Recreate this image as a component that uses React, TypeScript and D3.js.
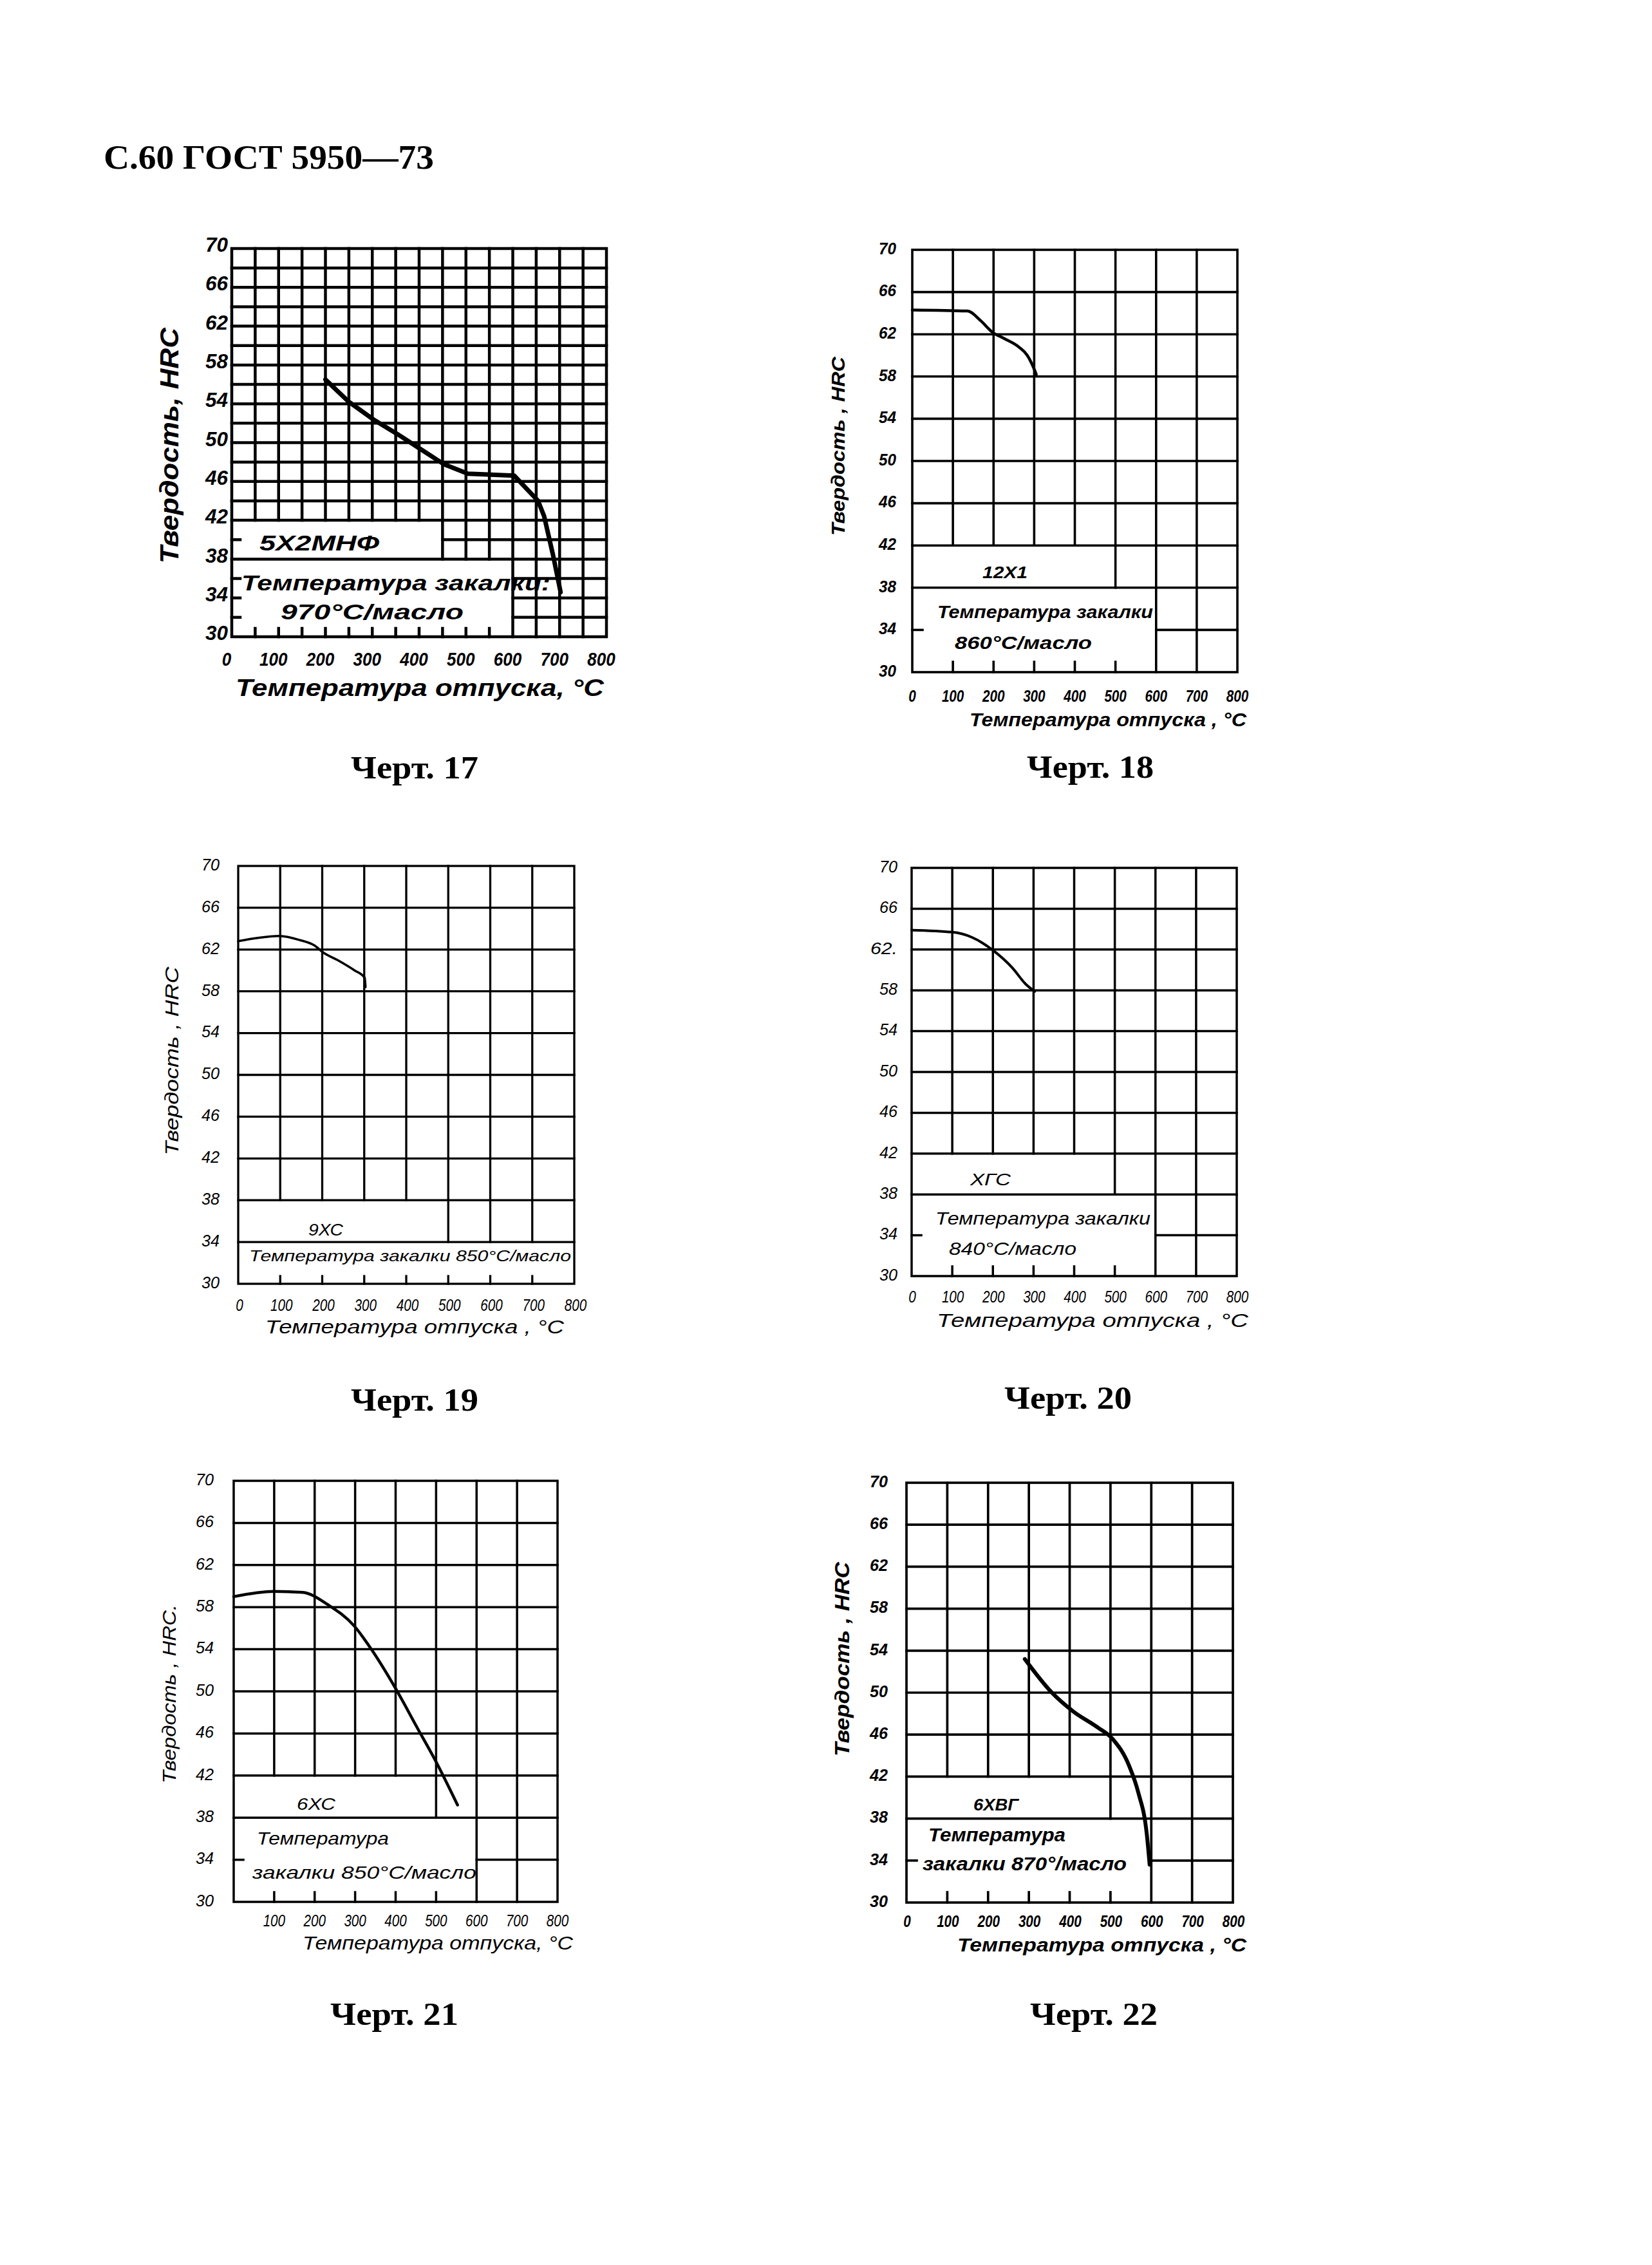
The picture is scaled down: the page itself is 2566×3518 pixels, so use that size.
import React from 'react';
import * as d3 from 'd3';

// ---------- data ----------
const headerText = 'С.60 ГОСТ 5950—73';
const yTickValues = [30, 34, 38, 42, 46, 50, 54, 58, 62, 66, 70];
const yTickLabels = ['30', '34', '38', '42', '46', '50', '54', '58', '62', '66', '70'];
const yTickLabels20 = ['30', '34', '38', '42', '46', '50', '54', '58', '62.', '66', '70'];
const xTickValues = [0, 100, 200, 300, 400, 500, 600, 700, 800];
const xTickLabels = ['0', '100', '200', '300', '400', '500', '600', '700', '800'];
const xTickLabels21 = ['', '100', '200', '300', '400', '500', '600', '700', '800'];

const yAxisTitle = 'Твердость, HRC';
const yAxisTitleSpaced = 'Твердость , HRC';
const xAxisTitle17 = 'Температура отпуска, °С';
const xAxisTitle = 'Температура отпуска , °С';
const xAxisTitle21 = 'Температура отпуска, °С';

// Черт. 17 — 5Х2МНФ
const temp17 = [200, 250, 305, 353, 404, 452, 504, 603, 654, 667, 686, 702];
const hrc17 = [56.5, 54.2, 52.3, 50.9, 49.3, 47.8, 46.8, 46.6, 44.0, 42.4, 38.4, 34.6];
// Черт. 18 — 12Х1
const temp18 = [0, 136, 168, 197, 226, 262, 283, 301, 305];
const hrc18 = [64.3, 64.2, 63.3, 62.2, 61.6, 60.8, 60.0, 58.6, 58.2];
// Черт. 19 — 9ХС
const temp19 = [0, 44, 98, 147, 181, 203, 236, 277, 301, 303];
const hrc19 = [62.8, 63.1, 63.3, 62.9, 62.4, 61.7, 61.0, 60.0, 59.3, 58.4];
// Черт. 20 — ХГС
const temp20 = [0, 100, 148, 201, 248, 281, 303];
const hrc20 = [63.9, 63.7, 63.2, 61.9, 60.2, 58.6, 57.9];
// Черт. 21 — 6ХС
const temp21 = [0, 100, 170, 234, 298, 340, 398, 454, 500, 553];
const hrc21 = [59.0, 59.5, 59.4, 58.2, 56.2, 54.0, 50.4, 46.5, 43.3, 39.2];
// Черт. 22 — 6ХВГ
const temp22 = [290, 354, 409, 468, 505, 546, 568, 589, 596];
const hrc22 = [53.2, 50.1, 48.2, 46.7, 45.6, 43.0, 40.5, 36.5, 33.6];

// ---------- helpers ----------
type Box = { x0: number; x1: number; y0: number; y1: number };
type TextSpec = { text: string; x0: number; x1: number; base: number; size: number };

function subtract(range: [number, number], excl: [number, number][]): [number, number][] {
  let segs: [number, number][] = [range];
  excl.forEach(([a, b]) => {
    const next: [number, number][] = [];
    segs.forEach(([s, e]) => {
      if (b <= s || a >= e) { next.push([s, e]); return; }
      if (a > s) next.push([s, a]);
      if (b < e) next.push([b, e]);
    });
    segs = next;
  });
  return segs;
}

const HAND = '"Liberation Sans", "DejaVu Sans", sans-serif';

function FitText({ t, weight }: { t: TextSpec; weight: number | string }) {
  return (
    <text x={t.x0} y={t.base} fontSize={t.size} fontFamily={HAND} fontStyle="italic"
      fontWeight={weight} textLength={t.x1 - t.x0} lengthAdjust="spacingAndGlyphs" fill="#000">
      {t.text}
    </text>
  );
}

function Chart(props: any) {
  const c = props.cfg;
  const x = d3.scaleLinear().domain([0, 800]).range([c.l, c.r]);
  const y = d3.scaleLinear().domain([30, 70]).range([c.b, c.t]);
  const boxes: Box[] = c.boxes;
  const lines: any[] = [];
  const vVals = d3.range(c.xStep, 800, c.xStep);
  const hVals = d3.range(30 + c.yStep, 70, c.yStep);
  vVals.forEach((v: number, i: number) => {
    const ex = boxes.filter(b => b.x0 < v - 1e-6 && v + 1e-6 < b.x1).map(b => [b.y0, b.y1] as [number, number]);
    subtract([30, 70], ex).forEach(([a, b2], j) => {
      lines.push(<line key={`v${i}-${j}`} x1={x(v)} x2={x(v)} y1={y(a)} y2={y(b2)} />);
    });
  });
  hVals.forEach((h: number, i: number) => {
    const ex = boxes.filter(b => b.y0 < h - 1e-6 && h + 1e-6 < b.y1).map(b => [b.x0, b.x1] as [number, number]);
    subtract([0, 800], ex).forEach(([a, b2], j) => {
      lines.push(<line key={`h${i}-${j}`} x1={x(a)} x2={x(b2)} y1={y(h)} y2={y(h)} />);
    });
  });
  const data = c.temps.map((t: number, i: number) => [t, c.hrcs[i]] as [number, number]);
  const lineGen = d3.line<[number, number]>().x(d => x(d[0])).y(d => y(d[1]))
    .curve(c.smooth ? d3.curveMonotoneX : d3.curveLinear);
  return (
    <g>
      <g stroke="#000" strokeWidth={c.gridW} strokeLinecap="square">
        {lines}
        <rect x={c.l} y={c.t} width={c.r - c.l} height={c.b - c.t} fill="none" />
        {c.leftTicks.map((v: number, i: number) => (
          <line key={`lt${i}`} x1={c.l} x2={c.l + c.tickLen} y1={y(v)} y2={y(v)} />
        ))}
        {c.bottomTicks.map((v: number, i: number) => (
          <line key={`bt${i}`} x1={x(v)} x2={x(v)} y1={c.b} y2={c.b - c.tickLen} />
        ))}
      </g>
      <path d={lineGen(data) || ''} fill="none" stroke="#000" strokeWidth={c.curveW} strokeLinejoin="round" strokeLinecap="round" />
      <g fontFamily={HAND} fontStyle="italic" fontWeight={c.weight} fill="#000">
        {yTickValues.map((v, i) => (
          <text key={`yl${i}`} x={c.yLabelRight - c.yCharW * c.yLabels[i].length} y={y(v) + c.yLabelDy}
            fontSize={c.yFont} dominantBaseline="middle"
            textLength={c.yCharW * c.yLabels[i].length} lengthAdjust="spacingAndGlyphs">
            {c.yLabels[i]}
          </text>
        ))}
        {xTickValues.map((v, i) => c.xLabels[i] ? (
          <text key={`xl${i}`} x={x(v) + c.xLabelDx - (c.xCharW * c.xLabels[i].length) / 2} y={c.xLabelBase}
            fontSize={c.xFont} textLength={c.xCharW * c.xLabels[i].length} lengthAdjust="spacingAndGlyphs">
            {c.xLabels[i]}
          </text>
        ) : null)}
      </g>
      <FitText t={c.xTitle} weight={c.weight} />
      {c.yTitle && (
        <text transform={`translate(${c.yTitle.cx},${c.yTitle.cy}) rotate(-90)`} x={-c.yTitle.len / 2}
          dominantBaseline="middle"
          fontSize={c.yTitle.size} fontFamily={HAND} fontStyle="italic" fontWeight={c.weight}
          textLength={c.yTitle.len} lengthAdjust="spacingAndGlyphs">
          {c.yTitle.text}
        </text>
      )}
      {c.notes.map((t: TextSpec, i: number) => <FitText key={`n${i}`} t={t} weight={c.weight} />)}
      <text x={c.caption.x0} y={c.caption.base} fontSize={50} fontFamily='"Liberation Serif", serif' fontWeight="bold"
        textLength={c.caption.x1 - c.caption.x0} lengthAdjust="spacingAndGlyphs">{c.caption.text}</text>
    </g>
  );
}

const boxesStd = [{ x0: 0, x1: 500, y0: 38, y1: 42 }, { x0: 0, x1: 600, y0: 30, y1: 38 }];

const charts = [
  {
    l: 360, r: 942, t: 386, b: 989, xStep: 50, yStep: 2, gridW: 4.5, curveW: 7, smooth: false, weight: 'bold',
    boxes: [{ x0: 0, x1: 450, y0: 38, y1: 42 }, { x0: 0, x1: 600, y0: 30, y1: 38 }],
    leftTicks: [32, 34, 36, 40], bottomTicks: [50, 100, 150, 200, 250, 300, 350, 400, 450, 500, 550], tickLen: 13,
    temps: temp17, hrcs: hrc17,
    yLabels: yTickLabels, yLabelRight: 354, yLabelDy: -3, yFont: 31, yCharW: 17.5,
    xLabels: xTickLabels, xLabelDx: -8, xLabelBase: 1034, xFont: 30, xCharW: 14.5,
    xTitle: { text: xAxisTitle17, x0: 366, x1: 938, base: 1081, size: 36 },
    yTitle: { text: yAxisTitle, cx: 266, cy: 692, len: 366, size: 40 },
    notes: [
      { text: '5Х2МНФ', x0: 403, x1: 589, base: 855, size: 34 },
      { text: 'Температура закалки:', x0: 375, x1: 855, base: 917, size: 34 },
      { text: '970°С/масло', x0: 436, x1: 720, base: 962, size: 34 },
    ],
    caption: { text: 'Черт. 17', x0: 545, x1: 743, base: 1209 },
  },
  {
    l: 1417, r: 1922, t: 388, b: 1044, xStep: 100, yStep: 4, gridW: 3.6, curveW: 4.5, smooth: true, weight: 'bold',
    boxes: boxesStd,
    leftTicks: [34], bottomTicks: [100, 200, 300, 400, 500], tickLen: 16,
    temps: temp18, hrcs: hrc18,
    yLabels: yTickLabels, yLabelRight: 1392, yLabelDy: 0, yFont: 26, yCharW: 13.5,
    xLabels: xTickLabels, xLabelDx: 0, xLabelBase: 1090, xFont: 25, xCharW: 11.5,
    xTitle: { text: xAxisTitle, x0: 1506, x1: 1936, base: 1128, size: 30 },
    yTitle: { text: yAxisTitleSpaced, cx: 1304, cy: 693, len: 278, size: 30 },
    notes: [
      { text: '12Х1', x0: 1526, x1: 1596, base: 898, size: 26 },
      { text: 'Температура закалки', x0: 1456, x1: 1791, base: 960, size: 27 },
      { text: '860°С/масло', x0: 1483, x1: 1696, base: 1008, size: 28 },
    ],
    caption: { text: 'Черт. 18', x0: 1595, x1: 1792, base: 1208 },
  },
  {
    l: 370, r: 892, t: 1345, b: 1994, xStep: 100, yStep: 4, gridW: 3.3, curveW: 3.6, smooth: true, weight: 'normal',
    boxes: [{ x0: 0, x1: 500, y0: 34, y1: 38 }, { x0: 0, x1: 800, y0: 30, y1: 34 }],
    leftTicks: [], bottomTicks: [100, 200, 300, 400, 500, 600, 700], tickLen: 12,
    temps: temp19, hrcs: hrc19,
    yLabels: yTickLabels, yLabelRight: 341, yLabelDy: 0, yFont: 26, yCharW: 14,
    xLabels: xTickLabels, xLabelDx: 2, xLabelBase: 2036, xFont: 25, xCharW: 11.5,
    xTitle: { text: 'Температура   отпуска , °С', x0: 412, x1: 876, base: 2071, size: 29 },
    yTitle: { text: 'Твердость  ,  HRC', cx: 269, cy: 1648, len: 293, size: 30 },
    notes: [
      { text: '9ХС', x0: 479, x1: 533, base: 1919, size: 26 },
      { text: 'Температура закалки 850°С/масло', x0: 387, x1: 887, base: 1959, size: 24 },
    ],
    caption: { text: 'Черт. 19', x0: 545, x1: 743, base: 2191 },
  },
  {
    l: 1416, r: 1921, t: 1348, b: 1982, xStep: 100, yStep: 4, gridW: 3.5, curveW: 4, smooth: true, weight: 'normal',
    boxes: boxesStd,
    leftTicks: [34], bottomTicks: [100, 200, 300, 400, 500], tickLen: 15,
    temps: temp20, hrcs: hrc20,
    yLabels: yTickLabels20, yLabelRight: 1394, yLabelDy: 0, yFont: 26, yCharW: 14,
    xLabels: xTickLabels, xLabelDx: 1, xLabelBase: 2023, xFont: 25, xCharW: 11.5,
    xTitle: { text: xAxisTitle, x0: 1455, x1: 1939, base: 2061, size: 30 },
    yTitle: null,
    notes: [
      { text: 'ХГС', x0: 1507, x1: 1570, base: 1841, size: 26 },
      { text: 'Температура закалки', x0: 1453, x1: 1787, base: 1902, size: 27 },
      { text: '840°С/масло', x0: 1474, x1: 1672, base: 1949, size: 28 },
    ],
    caption: { text: 'Черт. 20', x0: 1560, x1: 1758, base: 2188 },
  },
  {
    l: 363, r: 866, t: 2300, b: 2954, xStep: 100, yStep: 4, gridW: 3.5, curveW: 4.5, smooth: true, weight: 'normal',
    boxes: boxesStd,
    leftTicks: [34], bottomTicks: [100, 200, 300, 400, 500], tickLen: 15,
    temps: temp21, hrcs: hrc21,
    yLabels: yTickLabels, yLabelRight: 332, yLabelDy: 0, yFont: 26, yCharW: 14,
    xLabels: xTickLabels21, xLabelDx: 0, xLabelBase: 2992, xFont: 25, xCharW: 11.5,
    xTitle: { text: xAxisTitle21, x0: 470, x1: 890, base: 3028, size: 29 },
    yTitle: { text: 'Твердость  ,  HRC.', cx: 265, cy: 2631, len: 278, size: 29 },
    notes: [
      { text: '6ХС', x0: 461, x1: 521, base: 2811, size: 26 },
      { text: 'Температура', x0: 399, x1: 604, base: 2865, size: 28 },
      { text: 'закалки  850°С/масло', x0: 392, x1: 740, base: 2918, size: 28 },
    ],
    caption: { text: 'Черт. 21', x0: 513, x1: 712, base: 3145 },
  },
  {
    l: 1408, r: 1915, t: 2303, b: 2955, xStep: 100, yStep: 4, gridW: 3.7, curveW: 6, smooth: true, weight: 'bold',
    boxes: boxesStd,
    leftTicks: [34], bottomTicks: [100, 200, 300, 400, 500], tickLen: 16,
    temps: temp22, hrcs: hrc22,
    yLabels: yTickLabels, yLabelRight: 1379, yLabelDy: 0, yFont: 26, yCharW: 14,
    xLabels: xTickLabels, xLabelDx: 1, xLabelBase: 2993, xFont: 25, xCharW: 11.5,
    xTitle: { text: xAxisTitle, x0: 1487, x1: 1936, base: 3031, size: 30 },
    yTitle: { text: yAxisTitleSpaced, cx: 1311, cy: 2577, len: 302, size: 31 },
    notes: [
      { text: '6ХВГ', x0: 1512, x1: 1582, base: 2812, size: 26 },
      { text: 'Температура', x0: 1442, x1: 1655, base: 2860, size: 29 },
      { text: 'закалки 870°/масло', x0: 1433, x1: 1750, base: 2905, size: 29 },
    ],
    caption: { text: 'Черт. 22', x0: 1600, x1: 1798, base: 3145 },
  },
];

export default function App() {
  return (
    <svg width={2566} height={3518} viewBox="0 0 2566 3518"
      style={{ position: 'absolute', left: 0, top: 0, background: '#fff', display: 'block' }}>
      <rect x={0} y={0} width={2566} height={3518} fill="#fff" />
      <text x={161} y={262} fontSize={52} fontFamily='"Liberation Serif", serif' fontWeight="bold"
        textLength={513} lengthAdjust="spacingAndGlyphs">{headerText}</text>
      {charts.map((c, i) => <Chart key={i} cfg={c} />)}
    </svg>
  );
}
